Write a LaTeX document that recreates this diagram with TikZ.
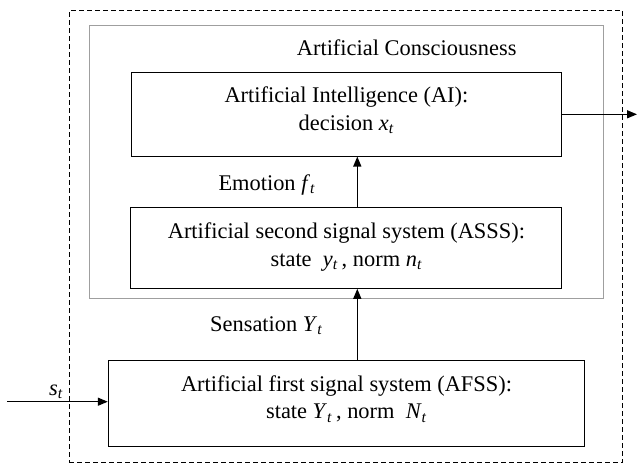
\documentclass[tikz,border=0pt]{standalone}
\usepackage{fontspec}
\setmainfont{Liberation Serif}
\usetikzlibrary{arrows.meta}
\newcommand{\sym}[2]{\textit{#1}\textsubscript{\textit{#2}}}
\begin{document}
\begin{tikzpicture}[x=1pt,y=-1pt,
  font=\fontsize{22.4}{27.5}\selectfont,
  block/.style={draw=black,line width=1pt,inner sep=0pt},
  btext/.style={align=center,inner sep=0pt},
  frame/.style={draw=gray!75,line width=1pt,inner sep=0pt},
  outer/.style={draw=black,line width=1pt,inner sep=0pt,dash pattern=on 5pt off 3pt},
  flow/.style={-{Triangle[length=10pt,width=8pt]},line width=1.3pt},
  lbl/.style={inner sep=0pt}]
  \useasboundingbox (0,0) rectangle (637,464);
  % outer dashed boundary and the consciousness frame
  \node[outer,minimum width=553.4pt,minimum height=451.6pt] (sys) at (346,236.5) {};
  \node[frame,minimum width=513.7pt,minimum height=272.6pt] (ac) at (346.2,162) {};
  \node[lbl,anchor=west] (aclbl) at (296.7,48) {Artificial Consciousness};
  % the three subsystems
  \node[block,minimum width=430.7pt,minimum height=83.7pt] (ai) at (346.4,114.2) {};
  \node[btext] (aitxt) at ([yshift=4pt]ai.center)
    {Artificial Intelligence (AI):\\decision \sym{x}{t}};
  \node[block,minimum width=431pt,minimum height=80.6pt] (asss) at (346.4,248) {};
  \node[btext] (assstxt) at ([yshift=1pt]asss.center)
    {Artificial second signal system (ASSS):\\state \ \sym{y}{t}\,, norm \sym{n}{t}};
  \node[block,minimum width=476.4pt,minimum height=86pt] (afss) at (346.5,403) {};
  \node[btext] (afsstxt) at ([yshift=4pt]afss.center)
    {Artificial first signal system (AFSS):\\state \sym{Y}{t}\,, norm \ \sym{N}{t}};
  % signal labels
  \node[lbl,anchor=west] (emo) at (218.3,185) {Emotion \sym{f}{t}};
  \node[lbl,anchor=west] (sens) at (210,326) {Sensation \sym{Y}{t}};
  \node[lbl,anchor=west] (slbl) at (49,392) {\sym{s}{t}};
  % connectors
  \coordinate (col) at (357.3,0);
  \coordinate (src) at (7,401.7);
  \coordinate (dst) at (637,114.3);
  \draw[flow] (afss.north -| col) -- (asss.south -| col);
  \draw[flow] (asss.north -| col) -- (ai.south -| col);
  \draw[flow] (ai.east |- dst) -- (dst);
  \draw[flow] (src) -- (src -| afss.west);
\end{tikzpicture}
\end{document}
